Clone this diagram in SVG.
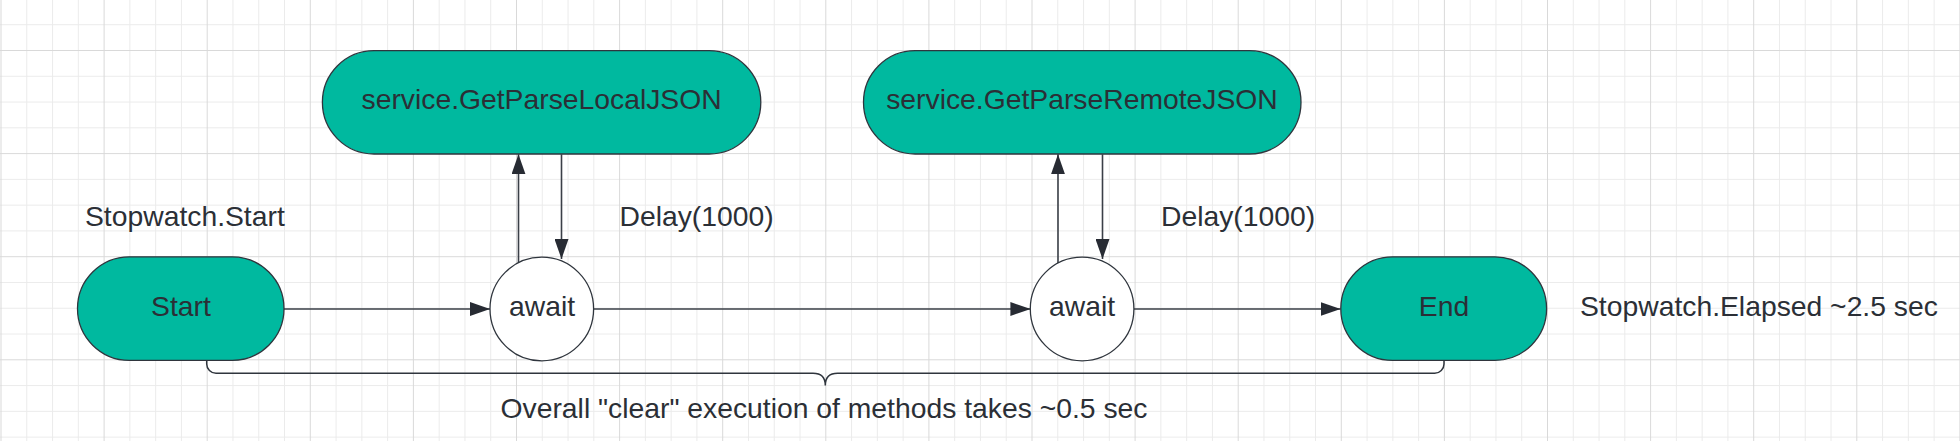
<svg xmlns="http://www.w3.org/2000/svg" width="1960" height="441" viewBox="0 0 1960 441">
<style>
.t{font-family:"Liberation Sans",Arial,sans-serif;font-size:28.3px;fill:#2b2f36}
.m{text-anchor:middle}
.node{fill:#00b99f;stroke:#2f353d;stroke-width:1.3}
.circ{fill:#ffffff;stroke:#2f353d;stroke-width:1.3}
.c{fill:none;stroke:#3a3f47;stroke-width:1.6}
.br{fill:none;stroke:#2f353d;stroke-width:1.5}
</style>
<defs>
<pattern id="grid" patternUnits="userSpaceOnUse" x="0.5" y="50" width="103.1" height="103.1">
<path d="M26.28 0V103.1M52.05 0V103.1M77.83 0V103.1M0 26.28H103.1M0 52.05H103.1M0 77.83H103.1" stroke="#ebebeb" stroke-width="1" fill="none"/>
<path d="M0.5 0V103.1M0 0.5H103.1" stroke="#d9d9d9" stroke-width="1" fill="none"/>
</pattern>
<marker id="arr" markerUnits="userSpaceOnUse" viewBox="0 0 20 14" refX="20" refY="7" markerWidth="20" markerHeight="14" orient="auto">
<path d="M0 0L20 7L0 14z" fill="#272b33"/>
</marker>
</defs>
<rect width="1960" height="441" fill="#ffffff"/>
<rect width="1960" height="441" fill="url(#grid)"/>

<g id="connectors">
<path class="c" d="M284 309H490" marker-end="url(#arr)"/>
<path class="c" d="M593.7 309H1030.4" marker-end="url(#arr)"/>
<path class="c" d="M1133.9 309H1340.6" marker-end="url(#arr)"/>
<path class="c" d="M518.5 263V154.3" marker-end="url(#arr)"/>
<path class="c" d="M561.5 154.3V259" marker-end="url(#arr)"/>
<path class="c" d="M1058 263.5V154.3" marker-end="url(#arr)"/>
<path class="c" d="M1102.5 154.3V259" marker-end="url(#arr)"/>
</g>

<g id="brace">
<path class="br" d="M206.7 360.5V364A9.3 9.3 0 0 0 216 373.3H813Q825.3 373.3 825.3 385.5Q825.3 373.3 837.6 373.3H1434.7A9.3 9.3 0 0 0 1444 364V360.5"/>
</g>

<g id="node-local">
<rect class="node" x="322.4" y="50.7" width="438.4" height="103.3" rx="51.65" ry="51.65"/>
<text class="t m" x="541.6" y="109">service.GetParseLocalJSON</text>
</g>
<g id="node-remote">
<rect class="node" x="863.5" y="50.7" width="437.5" height="103.3" rx="51.65" ry="51.65"/>
<text class="t m" x="1082" y="109">service.GetParseRemoteJSON</text>
</g>
<g id="node-start">
<rect class="node" x="77.5" y="256.8" width="206.5" height="103.6" rx="51.8" ry="51.8"/>
<text class="t m" x="181" y="315.5">Start</text>
</g>
<g id="node-await1">
<circle class="circ" cx="541.8" cy="309" r="51.8"/>
<text class="t m" x="542" y="315.5">await</text>
</g>
<g id="node-await2">
<circle class="circ" cx="1082.1" cy="309" r="51.8"/>
<text class="t m" x="1082.1" y="315.5">await</text>
</g>
<g id="node-end">
<rect class="node" x="1340.8" y="256.8" width="205.8" height="103.6" rx="51.8" ry="51.8"/>
<text class="t m" x="1444" y="315.5">End</text>
</g>

<g id="labels">
<text class="t" x="85" y="226">Stopwatch.Start</text>
<text class="t" x="619.5" y="226">Delay(1000)</text>
<text class="t" x="1161" y="226">Delay(1000)</text>
<text class="t" x="1580" y="315.5">Stopwatch.Elapsed ~2.5 sec</text>
<text class="t m" x="824" y="418">Overall "clear" execution of methods takes ~0.5 sec</text>
</g>
</svg>
